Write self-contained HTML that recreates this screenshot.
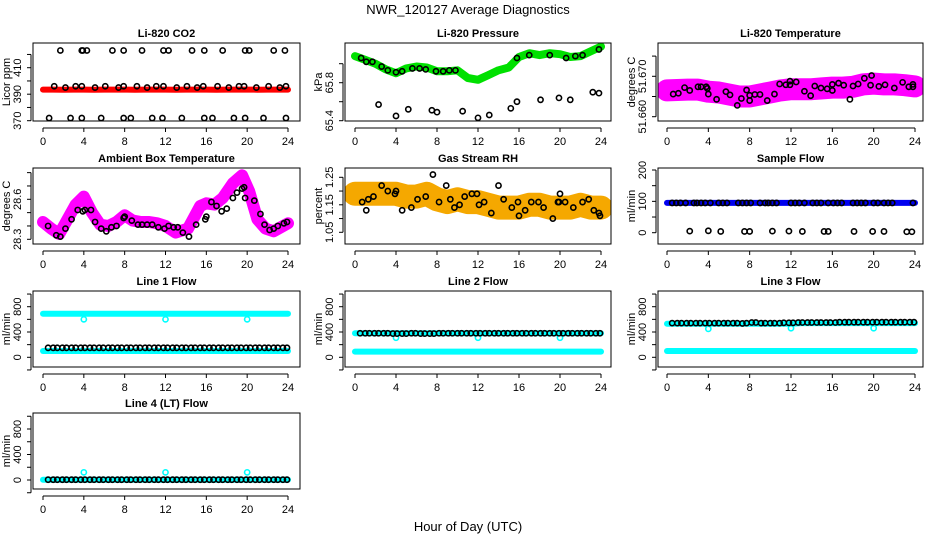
<!DOCTYPE html>
<html><head><meta charset="utf-8"><style>
body{margin:0;background:#fff;}
svg{display:block;font-family:"Liberation Sans",sans-serif;}
</style></head><body>
<svg id="chart" width="936" height="540" xmlns="http://www.w3.org/2000/svg">
<rect width="936" height="540" fill="#fff"/>
<text x="468" y="14" font-size="13" text-anchor="middle">NWR_120127  Average Diagnostics</text>
<text x="468" y="531" font-size="13" text-anchor="middle">Hour of Day (UTC)</text>
</svg>
<script>
// ---------- data ----------
const xTicks = [0,4,8,12,16,20,24];
const hours = [0,1,2,3,4,5,6,7,8,9,10,11,12,13,14,15,16,17,18,19,20,21,22,23,24];
const co2Band = [393.5,393.5,393.4,393.5,393.5,393.4,393.5,393.5,393.5,393.4,393.5,393.5,393.5,393.4,393.5,393.5,393.5,393.4,393.5,393.5,393.5,393.4,393.5,393.5,393.5];
const co2HiX = [1.1,2.2,3.2,3.8,5.1,6.1,7.4,7.9,9.2,10.2,11.1,11.8,13.1,14.1,15.1,15.7,17.1,18.2,19.2,19.7,20.9,22.1,23.2,23.8];
const co2HiY = [396,395,396,396,395,396,395,396,396,395,396,396,395,396,395,396,396,395,396,396,395,396,395,396];
const co2TopX = [1.7,3.8,3.9,4.3,6.8,7.9,9.7,11.8,12.3,14.6,15.8,17.6,19.8,20.2,22.6,23.7];
const co2TopY = [423,423,423,423,423,423,423,423,423,423,423,423,423,423,423,423];
const co2LowX = [0.6,2.7,3.8,5.7,7.9,8.6,10.7,11.7,13.6,15.8,16.6,18.7,19.8,21.6,23.8];
const co2LowY = [372,372,372,372,372,372,372,372,372,372,372,372,372,372,372];

const presBand = [66.08,66.04,66.0,65.94,65.90,65.95,65.97,65.96,65.92,65.92,65.93,65.85,65.83,65.88,65.93,65.96,66.07,66.11,66.09,66.11,66.10,66.07,66.08,66.13,66.18];
const presPtX = [0.6,1.1,1.7,2.6,3.2,4.0,4.6,5.6,6.3,6.9,7.9,8.6,9.2,9.8,15.8,17.0,19.0,20.6,21.5,22.2,23.8];
const presPtY = [66.06,66.02,66.02,65.97,65.93,65.91,65.92,65.95,65.95,65.94,65.92,65.92,65.93,65.93,66.06,66.09,66.09,66.06,66.08,66.09,66.15];
const presLowX = [2.3,4.0,5.2,7.5,8.0,10.5,12.0,13.1,15.2,15.8,18.1,19.9,21.0,23.2,23.8];
const presLowY = [65.57,65.45,65.52,65.51,65.49,65.50,65.43,65.46,65.53,65.60,65.62,65.64,65.62,65.70,65.69];

const tempBand = [51.6665,51.6666,51.6667,51.6667,51.6662,51.6660,51.6655,51.6650,51.6650,51.6655,51.6660,51.6665,51.6668,51.6668,51.6668,51.6670,51.6672,51.6672,51.6674,51.6680,51.6682,51.6680,51.6680,51.6678,51.6675];
const tempPtX = [0.6,1.1,1.7,2.2,3.0,3.3,3.8,3.9,4.0,4.8,5.7,6.1,6.8,7.2,7.7,8.0,8.0,8.5,9.0,9.7,10.4,10.9,11.5,11.9,11.9,12.5,13.3,13.9,14.3,14.9,15.5,16.0,16.0,16.6,17.1,17.7,18.0,18.5,19.1,19.7,19.8,20.5,21.1,22.0,22.8,23.4,23.8,23.8];
const tempPtY = [51.6656,51.6658,51.6672,51.6665,51.6674,51.6674,51.6674,51.6670,51.6656,51.6643,51.6662,51.6654,51.6628,51.6645,51.6666,51.6653,51.6640,51.6655,51.6655,51.6640,51.6656,51.6681,51.6679,51.6679,51.6688,51.6686,51.6663,51.6652,51.6676,51.6671,51.6669,51.6665,51.6680,51.6683,51.6678,51.6643,51.6676,51.6681,51.6695,51.6678,51.6702,51.6675,51.6679,51.6671,51.6685,51.6674,51.6680,51.6674];

const ambBand = [28.43,28.38,28.34,28.45,28.56,28.62,28.50,28.41,28.40,28.43,28.48,28.44,28.43,28.43,28.42,28.40,28.35,28.38,28.55,28.57,28.56,28.61,28.72,28.78,28.66,28.45,28.38,28.36,28.39,28.42];
const ambHours = [0,0.8,1.6,2.4,3.2,4.0,4.8,5.6,6.4,7.2,8.0,8.8,9.6,10.4,11.2,12.0,13.0,14.2,15.4,16.0,16.8,17.6,18.6,19.5,20.2,21.0,21.8,22.6,23.3,24];
const ambPtX = [0.5,1.3,1.7,2.2,2.8,3.4,3.9,4.1,4.7,5.1,5.7,6.2,6.7,7.2,7.9,8.0,8.7,9.3,9.7,10.2,10.7,11.3,11.9,12.3,12.8,13.2,13.7,14.3,15.0,15.9,16.0,16.5,17.0,17.5,18.0,18.6,19.0,19.5,19.7,19.8,20.7,21.3,21.7,22.2,22.6,23.0,23.6,23.9];
const ambPtY = [28.40,28.33,28.32,28.38,28.45,28.52,28.51,28.52,28.52,28.43,28.38,28.36,28.39,28.40,28.46,28.47,28.44,28.41,28.41,28.41,28.41,28.39,28.38,28.40,28.39,28.39,28.35,28.32,28.41,28.45,28.47,28.58,28.55,28.51,28.53,28.61,28.65,28.68,28.69,28.61,28.59,28.49,28.41,28.37,28.38,28.40,28.42,28.43];

const rhBand = [1.19,1.19,1.19,1.19,1.19,1.18,1.18,1.19,1.17,1.16,1.17,1.16,1.16,1.15,1.14,1.14,1.14,1.15,1.15,1.14,1.14,1.14,1.15,1.14,1.14];
const rhPtX = [0.7,1.1,1.3,1.8,2.6,3.2,3.9,4.0,4.6,5.5,6.1,6.9,7.6,8.2,8.9,9.3,9.7,10.2,10.7,11.4,11.9,12.1,12.6,13.3,14.0,14.5,15.3,15.9,16.0,16.6,17.2,17.9,18.4,19.3,19.8,19.9,20.0,20.5,21.3,22.2,22.8,23.3,23.8,23.9];
const rhPtY = [1.16,1.13,1.17,1.18,1.22,1.20,1.19,1.20,1.13,1.14,1.17,1.18,1.26,1.16,1.22,1.17,1.14,1.15,1.18,1.19,1.19,1.15,1.16,1.12,1.22,1.17,1.14,1.16,1.11,1.13,1.16,1.16,1.14,1.10,1.16,1.16,1.19,1.16,1.14,1.16,1.17,1.13,1.12,1.11,1.03];

const sampBand = [95,95,95,95,95,95,95,95,95,95,95,95,95,95,95,95,95,95,95,95,95,95,95,95,95];
const sampPtX = [0.5,0.9,1.3,1.8,2.6,2.9,3.3,3.7,4.2,5.0,5.4,5.8,6.9,7.3,7.7,8.1,9.0,9.5,9.8,10.2,10.6,12.0,12.4,12.8,13.3,14.1,14.5,14.9,15.6,16.1,16.5,16.9,18.0,18.4,18.8,19.2,20.0,20.4,21.0,21.4,21.8,23.8];
const sampPtY = [95,95,95,95,95,95,95,95,95,95,95,95,95,95,95,95,95,95,95,95,95,95,95,95,95,95,95,95,95,95,95,95,95,95,95,95,95,95,95,95,95,95];
const sampLowX = [2.2,4.0,5.2,7.5,8.0,10.2,11.8,13.1,15.2,15.6,18.1,19.9,21.0,23.2,23.7];
const sampLowY = [5,6,4,4,4,5,5,4,4,4,4,4,4,3,3];

const flowX = [0.5,1.0,1.4,1.9,2.3,2.8,3.2,3.7,4.1,4.6,5.0,5.5,5.9,6.4,6.8,7.3,7.7,8.2,8.6,9.1,9.5,10.0,10.4,10.9,11.3,11.8,12.2,12.7,13.1,13.6,14.0,14.5,14.9,15.4,15.8,16.3,16.7,17.2,17.6,18.1,18.5,19.0,19.4,19.9,20.3,20.8,21.2,21.7,22.1,22.6,23.0,23.5,23.9];
const line1Hi = [690,690,690,690,690,690,690,690,690,690,690,690,690,690,690,690,690,690,690,690,690,690,690,690,690];
const line1Lo = [100,100,100,100,100,100,100,100,100,100,100,100,100,100,100,100,100,100,100,100,100,100,100,100,100];
const line1Black = [150,150,150,150,150,150,150,150,150,150,150,150,150,150,150,150,150,150,150,150,150,150,150,150,150,150,150,150,150,150,150,150,150,150,150,150,150,150,150,150,150,150,150,150,150,150,150,150,150,150,150,150,150];
const line1DipX = [4,12,20];
const line1DipY = [600,600,600];
const line2Hi = [380,380,380,380,380,380,380,380,380,380,380,380,380,380,380,380,380,380,380,380,380,380,380,380,380];
const line2Lo = [90,90,90,90,90,90,90,90,90,90,90,90,90,90,90,90,90,90,90,90,90,90,90,90,90];
const line2Black = [380,380,380,380,380,380,380,375,375,375,375,380,380,375,375,375,375,380,380,380,380,380,380,380,380,380,380,380,380,380,380,380,380,380,380,380,380,380,380,380,380,380,380,380,380,380,380,380,380,380,380,380,380];
const line2DipX = [4,12,20];
const line2DipY = [310,310,310];
const line3Hi = [530,530,530,530,530,530,530,530,530,530,530,530,530,540,540,540,540,540,540,540,540,540,540,540,540];
const line3Lo = [100,100,100,100,100,100,100,100,100,100,100,100,100,100,100,100,100,100,100,100,100,100,100,100,100];
const line3Black = [540,540,540,540,540,540,540,540,540,540,540,540,540,540,540,535,540,550,550,540,540,540,540,540,545,545,545,550,550,550,550,550,550,550,550,550,555,555,555,555,555,555,555,555,555,555,555,555,555,555,555,555,555];
const line3DipX = [4,12,20];
const line3DipY = [450,460,460];
const line4Lo = [5,5,5,5,5,5,5,5,5,5,5,5,5,5,5,5,5,5,5,5,5,5,5,5,5];
const line4Black = [5,5,5,5,5,5,5,5,5,5,5,5,5,5,5,5,5,5,5,5,5,5,5,5,5,5,5,5,5,5,5,5,5,5,5,5,5,5,5,5,5,5,5,5,5,5,5,5,5,5,5,5,5];
const line4SpikeX = [4,12,20];
const line4SpikeY = [120,120,120];

const flowTicks = [-200,0,200,400,600,800,1000];
const flowLabels = [0,400,800];

// ---------- drawing ----------
const NS = "http://www.w3.org/2000/svg";
const svg = document.getElementById('chart');
const cols = [{x0:33,x1:300,h0:43,h24:288},{x0:345,x1:611,h0:355,h24:601},{x0:658,x1:923,h0:667,h24:915}];
const rows = [[43,121],[168,244],[291,367],[413,489]];

function mk(tag, attrs, parent){
  const e = document.createElementNS(NS, tag);
  for (const k in attrs) e.setAttribute(k, attrs[k]);
  (parent||svg).appendChild(e);
  return e;
}

function panel(name, title, ylab, c, r, v0, p0, v1, p1, ticks, labels, dec){
  const col = cols[c], row = rows[r];
  const g = mk('g', {});
  
  
  const sx = h => col.h0 + (col.h24 - col.h0) * h / 24;
  const sy = v => p0 + (p1 - p0) * (v - v0) / (v1 - v0);
  const t = mk('text', {x:(col.x0+col.x1)/2, y:row[0]-6, 'font-size':11, 'font-weight':'bold', 'text-anchor':'middle'}, g);
  t.textContent = title;
  
  
  const xa = mk('g', {}, g);
  
  
  mk('line', {x1:sx(0), x2:sx(24), y1:row[1]+7, y2:row[1]+7, stroke:'#000'}, xa);
  xTicks.forEach(h => {
    mk('line', {x1:sx(h), x2:sx(h), y1:row[1]+7, y2:row[1]+11, stroke:'#000'}, xa);
    const l = mk('text', {x:sx(h), y:row[1]+24, 'font-size':11, 'text-anchor':'middle'}, xa);
    l.textContent = h;
    
    
  });
  const ya = mk('g', {}, g);
  
  
  const yx = col.x0 - 2;
  mk('line', {x1:yx, x2:yx, y1:sy(ticks[0]), y2:sy(ticks[ticks.length-1]), stroke:'#000'}, ya);
  ticks.forEach(v => mk('line', {x1:yx-4, x2:yx, y1:sy(v), y2:sy(v), stroke:'#000'}, ya));
  labels.forEach(v => {
    const lx = col.x0 - 12, ly = sy(v);
    const l = mk('text', {x:lx, y:ly, 'font-size':11, 'text-anchor':'middle', transform:`rotate(-90 ${lx} ${ly})`}, ya);
    l.textContent = v.toFixed(dec);
    
    
  });
  const tx = col.x0 - 23, ty = (row[0]+row[1])/2;
  const yt = mk('text', {x:tx, y:ty, 'font-size':11, 'text-anchor':'middle', transform:`rotate(-90 ${tx} ${ty})`}, g);
  yt.textContent = ylab;
  
  
  const clip = 'clip-' + name;
  const cp = mk('clipPath', {id:clip}, g);
  mk('rect', {x:col.x0, y:row[0], width:col.x1-col.x0, height:row[1]-row[0]}, cp);
  const plot = mk('g', {'clip-path':`url(#${clip})`}, g);
  const box = mk('rect', {x:col.x0, y:row[0], width:col.x1-col.x0, height:row[1]-row[0], fill:'none', stroke:'#000'}, g);
  
  
  return {plot, sx, sy};
}

function band(P, xs, ys, color, w, name){
  const pts = xs.map((h,i) => P.sx(h).toFixed(1) + ',' + P.sy(ys[i]).toFixed(1)).join(' ');
  const pl = mk('polyline', {points:pts, fill:'none', stroke:color, 'stroke-width':w, 'stroke-linecap':'round', 'stroke-linejoin':'round'}, P.plot);
  
  
}
function pts(P, xs, ys, color, name, r){
  const g = mk('g', {}, P.plot);
  
  
  xs.forEach((h,i) => mk('circle', {cx:P.sx(h), cy:P.sy(ys[i]), r:r||2.6, fill:'none', stroke:color, 'stroke-width':1.6}, g));
}

let P = panel('co2', 'Li-820 CO2', 'Licor ppm', 0, 0, 370, 120.7, 410, 67.7, [370,380,390,400,410,420], [370,390,410], 0);
band(P, hours, co2Band, '#f00', 6, 'co2-band');
pts(P, co2HiX, co2HiY, '#000', 'co2-points');
pts(P, co2TopX, co2TopY, '#000', 'co2-high-outliers');
pts(P, co2LowX, co2LowY, '#000', 'co2-low-outliers');

P = panel('pressure', 'Li-820 Pressure', 'kPa', 1, 0, 65.4, 120.7, 65.8, 82.7, [65.4,65.6,65.8,66.0], [65.4,65.8], 1);
band(P, hours, presBand, '#00e000', 8, 'pressure-band');
pts(P, presPtX, presPtY, '#000', 'pressure-points');
pts(P, presLowX, presLowY, '#000', 'pressure-low-points');

P = panel('li820-temp', 'Li-820 Temperature', 'degrees C', 2, 0, 51.66, 116.7, 51.67, 76.3, [51.660,51.665,51.670,51.675], [51.660,51.670], 3);
band(P, hours, tempBand, '#f0f', 22, 'li820-temp-band');
pts(P, tempPtX, tempPtY, '#000', 'li820-temp-points');

P = panel('ambient', 'Ambient Box Temperature', 'degrees C', 0, 1, 28.3, 239.3, 28.6, 199.3, [28.3,28.4,28.5,28.6,28.7,28.8], [28.3,28.6], 1);
band(P, ambHours, ambBand, '#f0f', 12, 'ambient-band');
pts(P, ambPtX, ambPtY, '#000', 'ambient-points');

P = panel('rh', 'Gas Stream RH', 'percent', 1, 1, 1.05, 232.3, 1.25, 177.3, [1.05,1.10,1.15,1.20,1.25], [1.05,1.15,1.25], 2);
band(P, hours, rhBand, '#f5a800', 24, 'rh-band');
pts(P, rhPtX, rhPtY, '#000', 'rh-points');

P = panel('sample-flow', 'Sample Flow', 'ml/min', 2, 1, 0, 232.7, 200, 170, [0,50,100,150,200], [0,100,200], 0);
band(P, hours, sampBand, '#0000f0', 6, 'sample-flow-band');
pts(P, sampPtX, sampPtY, '#000', 'sample-flow-points');
pts(P, sampLowX, sampLowY, '#000', 'sample-flow-low-points');

P = panel('line1', 'Line 1 Flow', 'ml/min', 0, 2, 0, 357.3, 800, 306.7, flowTicks, flowLabels, 0);
band(P, hours, line1Hi, '#0ff', 6, 'line1-high-band');
band(P, hours, line1Lo, '#0ff', 6, 'line1-low-band');
pts(P, line1DipX, line1DipY, '#0ff', 'line1-dips');
pts(P, flowX, line1Black, '#000', 'line1-points');

P = panel('line2', 'Line 2 Flow', 'ml/min', 1, 2, 0, 357.3, 800, 306.7, flowTicks, flowLabels, 0);
band(P, hours, line2Hi, '#0ff', 6, 'line2-high-band');
band(P, hours, line2Lo, '#0ff', 6, 'line2-low-band');
pts(P, line2DipX, line2DipY, '#0ff', 'line2-dips');
pts(P, flowX, line2Black, '#000', 'line2-points');

P = panel('line3', 'Line 3 Flow', 'ml/min', 2, 2, 0, 357.3, 800, 306.7, flowTicks, flowLabels, 0);
band(P, hours, line3Hi, '#0ff', 6, 'line3-high-band');
band(P, hours, line3Lo, '#0ff', 6, 'line3-low-band');
pts(P, line3DipX, line3DipY, '#0ff', 'line3-dips');
pts(P, flowX, line3Black, '#000', 'line3-points');

P = panel('line4', 'Line 4 (LT) Flow', 'ml/min', 0, 3, 0, 480, 800, 429, flowTicks, flowLabels, 0);
band(P, hours, line4Lo, '#0ff', 6, 'line4-band');
pts(P, line4SpikeX, line4SpikeY, '#0ff', 'line4-spikes');
pts(P, flowX, line4Black, '#000', 'line4-points');
</script>
</body></html>
